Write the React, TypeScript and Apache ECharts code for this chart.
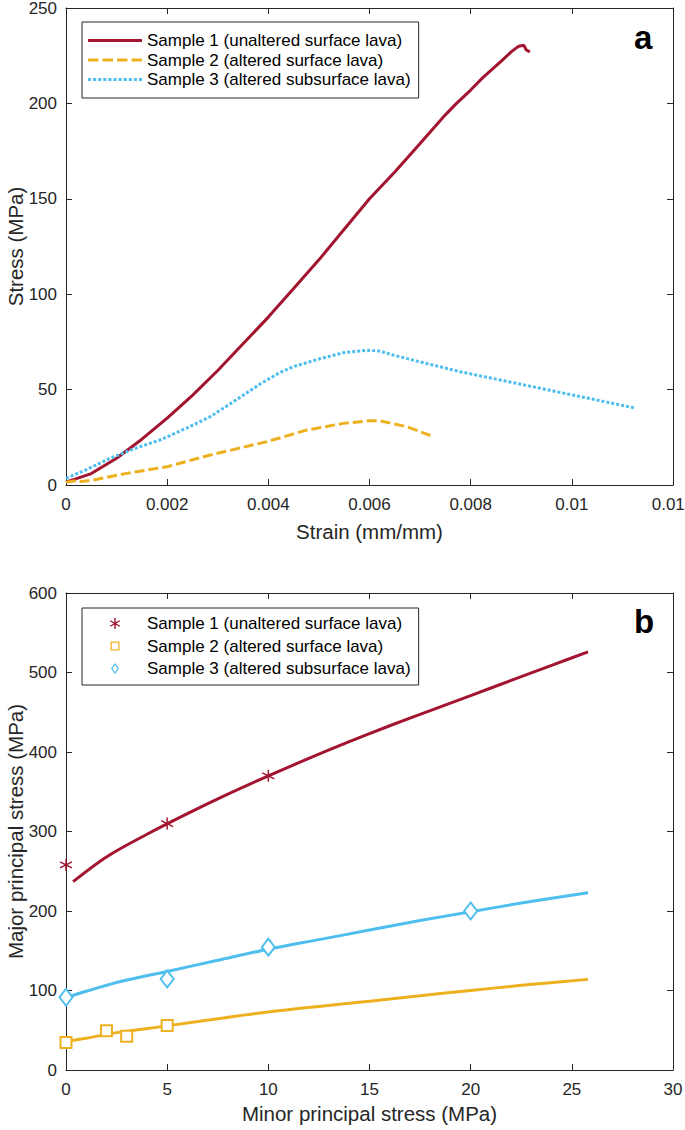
import React, { useEffect, useRef } from "react";
import * as echarts from "echarts";

// ---- Panel a: stress–strain curves ----
const strainTicks = [0, 0.002, 0.004, 0.006, 0.008, 0.01, 0.012];
const s1Strain = [0, 0.0005, 0.001, 0.0015, 0.002, 0.0025, 0.003, 0.0035, 0.004, 0.0045, 0.005, 0.0055, 0.006, 0.0065, 0.007, 0.0075, 0.0077, 0.008, 0.00824, 0.0086, 0.0088, 0.00895, 0.00905, 0.0091, 0.00917];
const s1Stress = [1.5, 6, 14, 24, 35, 47, 60, 74, 88, 103, 118, 134, 150, 164, 179, 194, 199.5, 207, 213.5, 222, 227, 230, 230.5, 228, 227];
const s2Strain = [0, 0.00025, 0.0003, 0.00054, 0.0012, 0.002, 0.00285, 0.00397, 0.00476, 0.00548, 0.00601, 0.0062, 0.00673, 0.00723];
const s2Stress = [1.5, 2.5, 1.8, 2.6, 6.1, 9.6, 15.7, 22.7, 28.8, 32.3, 33.7, 33.7, 30.6, 25.7];
const s3Strain = [0, 0.0004, 0.00087, 0.0014, 0.00186, 0.0024, 0.00285, 0.0033, 0.00384, 0.0042, 0.00449, 0.005, 0.00548, 0.00594, 0.0062, 0.00647, 0.007, 0.00779, 0.0085, 0.0095, 0.0105, 0.01124];
const s3Stress = [3.5, 8, 14, 19.5, 23.6, 30, 35.8, 43.5, 53, 58.5, 62, 66, 69.3, 70.6, 70.2, 68.1, 64.5, 59.4, 55.5, 50, 44.5, 40.4];

// ---- Panel b: failure envelopes ----
const s1Minor = [0, 5, 10];
const s1Major = [258, 310, 370];
const s2Minor = [0, 2, 3, 5];
const s2Major = [34.5, 49.5, 42.5, 56];
const s3Minor = [0, 5, 10, 20];
const s3Major = [91.5, 114.5, 154.5, 200];
const fit1Minor = [0.35, 2, 4, 6, 8, 10, 12, 14, 16, 18, 20, 22, 24, 25.8];
const fit1Major = [237, 268, 296.5, 322.5, 347, 370, 392, 413, 433, 452, 471, 490, 509, 526];
const fit2Minor = [0, 1, 2.5, 5, 7.5, 10, 12.5, 15, 17.5, 20, 22.5, 25.8];
const fit2Major = [36, 40, 47, 55.5, 64.5, 73, 80, 86.5, 93.5, 100, 106.5, 114];
const fit3Minor = [0, 1, 2.5, 5, 7.5, 10, 12.5, 15, 17.5, 20, 22.5, 25.8];
const fit3Major = [91, 99, 110, 124, 138, 152, 164, 176, 188, 199, 210, 223];

const legendNames = [
  "Sample 1 (unaltered surface lava)",
  "Sample 2 (altered surface lava)",
  "Sample 3 (altered subsurface lava)",
];

const RED = "#A2142F";
const ORANGE = "#EDB120";
const BLUE = "#4DBEEE";
const AX = "#262626";
const FONT = "Liberation Sans, Arial, sans-serif";

const zip = (a: number[], b: number[]) => a.map((v, i) => [v, b[i]]);

const ASTERISK = "path://M5,0 L5,10 M0.67,2.5 L9.33,7.5 M0.67,7.5 L9.33,2.5";
const ICON_SOLID = "path://M0,0h54v3h-54z";
const ICON_DASH = "path://M0,0h10v3h-10z M14,0h10v3h-10z M28,0h10v3h-10z M42,0h10v3h-10z";
const ICON_DOT =
  "path://M0,0h3v3h-3z M5,0h3v3h-3z M10,0h3v3h-3z M15,0h3v3h-3z M20,0h3v3h-3z M25,0h3v3h-3z M30,0h3v3h-3z M35,0h3v3h-3z M40,0h3v3h-3z M45,0h3v3h-3z M50,0h3v3h-3z";
// legend icons for panel b: 54 wide boxes (tiny anchors at both ends) with the marker centred
const ANCH = "M0,5.5h0.01v0.01h-0.01z M54,5.5h0.01v0.01h-0.01z ";
const ICON_AST =
  "path://" +
  ANCH +
  "M26.3,0h1.4v11h-1.4z M21.89,3.356L22.59,2.144L32.11,7.644L31.41,8.856Z M22.59,8.856L21.89,7.644L31.41,2.144L32.11,3.356Z";
const ICON_SQUARE = "path://" + ANCH + "M22.5,1h9v9h-9z M23.8,2.3v6.4h6.4v-6.4z";
const ICON_DIAMOND = "path://" + ANCH + "M27,0L31,5.5L27,11L23,5.5Z M27,1.9L24.4,5.5L27,9.1L29.6,5.5Z";

function axisBase(gridIndex: number, min: number, max: number, interval: number) {
  return {
    type: "value",
    gridIndex,
    min,
    max,
    interval,
    axisLine: { show: true, onZero: false, lineStyle: { color: AX, width: 1 } },
    axisTick: { show: true, inside: true, length: 6, lineStyle: { color: AX, width: 1 } },
    splitLine: { show: false },
  };
}

export default function App() {
  const ref = useRef<HTMLDivElement>(null);
  useEffect(() => {
    if (!ref.current) return;
    const chart = echarts.init(ref.current, null, { renderer: "svg" });
    const labelStyle = { color: AX, fontSize: 17, fontFamily: FONT };
    const nameStyle = { color: AX, fontSize: 20.5, fontFamily: FONT };
    const fmtStrain = (v: number) => (v === 0 ? "0" : String(parseFloat(v.toFixed(4))));
    const legendText = { color: "#000", fontSize: 17, fontFamily: FONT };
    const option: any = {
      animation: false,
      backgroundColor: "#fff",
      grid: [
        { left: 66, top: 8, width: 607, height: 477, containLabel: false, outerBoundsMode: "none" },
        { left: 66, top: 593, width: 607, height: 477, containLabel: false, outerBoundsMode: "none" },
      ],
      xAxis: [
        {
          ...axisBase(0, strainTicks[0], strainTicks[strainTicks.length - 1], 0.002),
          position: "bottom",
          name: "Strain (mm/mm)",
          nameLocation: "middle",
          nameGap: 36,
          nameMoveOverlap: false,
          nameTextStyle: nameStyle,
          axisLabel: { ...labelStyle, margin: 11, formatter: fmtStrain, showMaxLabel: true },
        },
        { ...axisBase(0, 0, 0.012, 0.002), position: "top", axisLabel: { show: false } },
        {
          ...axisBase(1, 0, 30, 5),
          position: "bottom",
          name: "Minor principal stress (MPa)",
          nameLocation: "middle",
          nameGap: 33,
          nameMoveOverlap: false,
          nameTextStyle: nameStyle,
          axisLabel: { ...labelStyle, margin: 11 },
        },
        { ...axisBase(1, 0, 30, 5), position: "top", axisLabel: { show: false } },
      ],
      yAxis: [
        {
          ...axisBase(0, 0, 250, 50),
          position: "left",
          name: "Stress (MPa)",
          nameLocation: "middle",
          nameGap: 40,
          nameMoveOverlap: false,
          nameTextStyle: nameStyle,
          axisLabel: { ...labelStyle, margin: 9 },
        },
        { ...axisBase(0, 0, 250, 50), position: "right", axisLabel: { show: false } },
        {
          ...axisBase(1, 0, 600, 100),
          position: "left",
          name: "Major principal stress (MPa)",
          nameLocation: "middle",
          nameGap: 40,
          nameMoveOverlap: false,
          nameTextStyle: nameStyle,
          axisLabel: { ...labelStyle, margin: 9 },
        },
        { ...axisBase(1, 0, 600, 100), position: "right", axisLabel: { show: false } },
      ],
      legend: [
        {
          data: [
            { name: "a1", icon: ICON_SOLID },
            { name: "a2", icon: ICON_DASH },
            { name: "a3", icon: ICON_DOT },
          ],
          formatter: (n: string) => legendNames[Number(n.slice(1)) - 1],
          orient: "vertical",
          left: 82,
          top: 22,
          padding: [10, 8, 10, 6],
          itemWidth: 54,
          itemHeight: 14,
          itemGap: 2.5,
          borderColor: AX,
          borderWidth: 1,
          borderRadius: 0,
          backgroundColor: "#fff",
          textStyle: legendText,
        },
        {
          data: [
            { name: "b1", icon: ICON_AST, itemStyle: { color: RED, borderWidth: 0 } },
            { name: "b2", icon: ICON_SQUARE, itemStyle: { color: ORANGE, borderWidth: 0 } },
            { name: "b3", icon: ICON_DIAMOND, itemStyle: { color: BLUE, borderWidth: 0 } },
          ],
          formatter: (n: string) => legendNames[Number(n.slice(1)) - 1],
          orient: "vertical",
          left: 82,
          top: 608,
          padding: [7, 8, 8, 6],
          itemWidth: 54,
          itemHeight: 11,
          itemGap: 5.5,
          borderColor: AX,
          borderWidth: 1,
          borderRadius: 0,
          backgroundColor: "#fff",
          textStyle: legendText,
        },
      ],
      graphic: [
        {
          type: "text",
          left: 634,
          top: 21,
          style: { text: "a", font: `bold 33px ${FONT}`, fill: "#000" },
        },
        {
          type: "text",
          left: 634,
          top: 605,
          style: { text: "b", font: `bold 33px ${FONT}`, fill: "#000" },
        },
      ],
      series: [
        {
          name: "a1",
          type: "line",
          xAxisIndex: 0,
          yAxisIndex: 0,
          data: zip(s1Strain, s1Stress),
          symbol: "none",
          lineStyle: { color: RED, width: 3 },
          itemStyle: { color: RED },
        },
        {
          name: "a2",
          type: "line",
          xAxisIndex: 0,
          yAxisIndex: 0,
          data: zip(s2Strain, s2Stress),
          symbol: "none",
          lineStyle: { color: ORANGE, width: 3, type: [10, 4] },
          itemStyle: { color: ORANGE },
        },
        {
          name: "a3",
          type: "line",
          xAxisIndex: 0,
          yAxisIndex: 0,
          data: zip(s3Strain, s3Stress),
          symbol: "none",
          lineStyle: { color: BLUE, width: 3, type: [3, 2] },
          itemStyle: { color: BLUE },
        },
        {
          name: "f1",
          type: "line",
          xAxisIndex: 2,
          yAxisIndex: 2,
          data: zip(fit1Minor, fit1Major),
          smooth: 0.3,
          symbol: "none",
          lineStyle: { color: RED, width: 3 },
        },
        {
          name: "f2",
          type: "line",
          xAxisIndex: 2,
          yAxisIndex: 2,
          data: zip(fit2Minor, fit2Major),
          smooth: 0.3,
          symbol: "none",
          lineStyle: { color: ORANGE, width: 3 },
        },
        {
          name: "f3",
          type: "line",
          xAxisIndex: 2,
          yAxisIndex: 2,
          data: zip(fit3Minor, fit3Major),
          smooth: 0.3,
          symbol: "none",
          lineStyle: { color: BLUE, width: 3 },
        },
        {
          name: "b1",
          type: "scatter",
          xAxisIndex: 2,
          yAxisIndex: 2,
          data: zip(s1Minor, s1Major),
          symbol: ASTERISK,
          symbolSize: 12,
          itemStyle: { color: "rgba(0,0,0,0)", borderColor: RED, borderWidth: 1.5, opacity: 1 },
          z: 5,
        },
        {
          name: "b2",
          type: "scatter",
          xAxisIndex: 2,
          yAxisIndex: 2,
          data: zip(s2Minor, s2Major),
          symbol: "emptyRect",
          symbolSize: 11,
          itemStyle: { color: ORANGE, borderWidth: 1.4, opacity: 1 },
          z: 5,
        },
        {
          name: "b3",
          type: "scatter",
          xAxisIndex: 2,
          yAxisIndex: 2,
          data: zip(s3Minor, s3Major),
          symbol: "emptyDiamond",
          symbolSize: [13, 17],
          itemStyle: { color: BLUE, borderWidth: 1.4, opacity: 1 },
          z: 5,
        },
      ],
    };
    chart.setOption(option);
    return () => chart.dispose();
  }, []);
  return (
    <div
      ref={ref}
      style={{ position: "absolute", left: 0, top: 0, width: 685, height: 1130 }}
    />
  );
}
